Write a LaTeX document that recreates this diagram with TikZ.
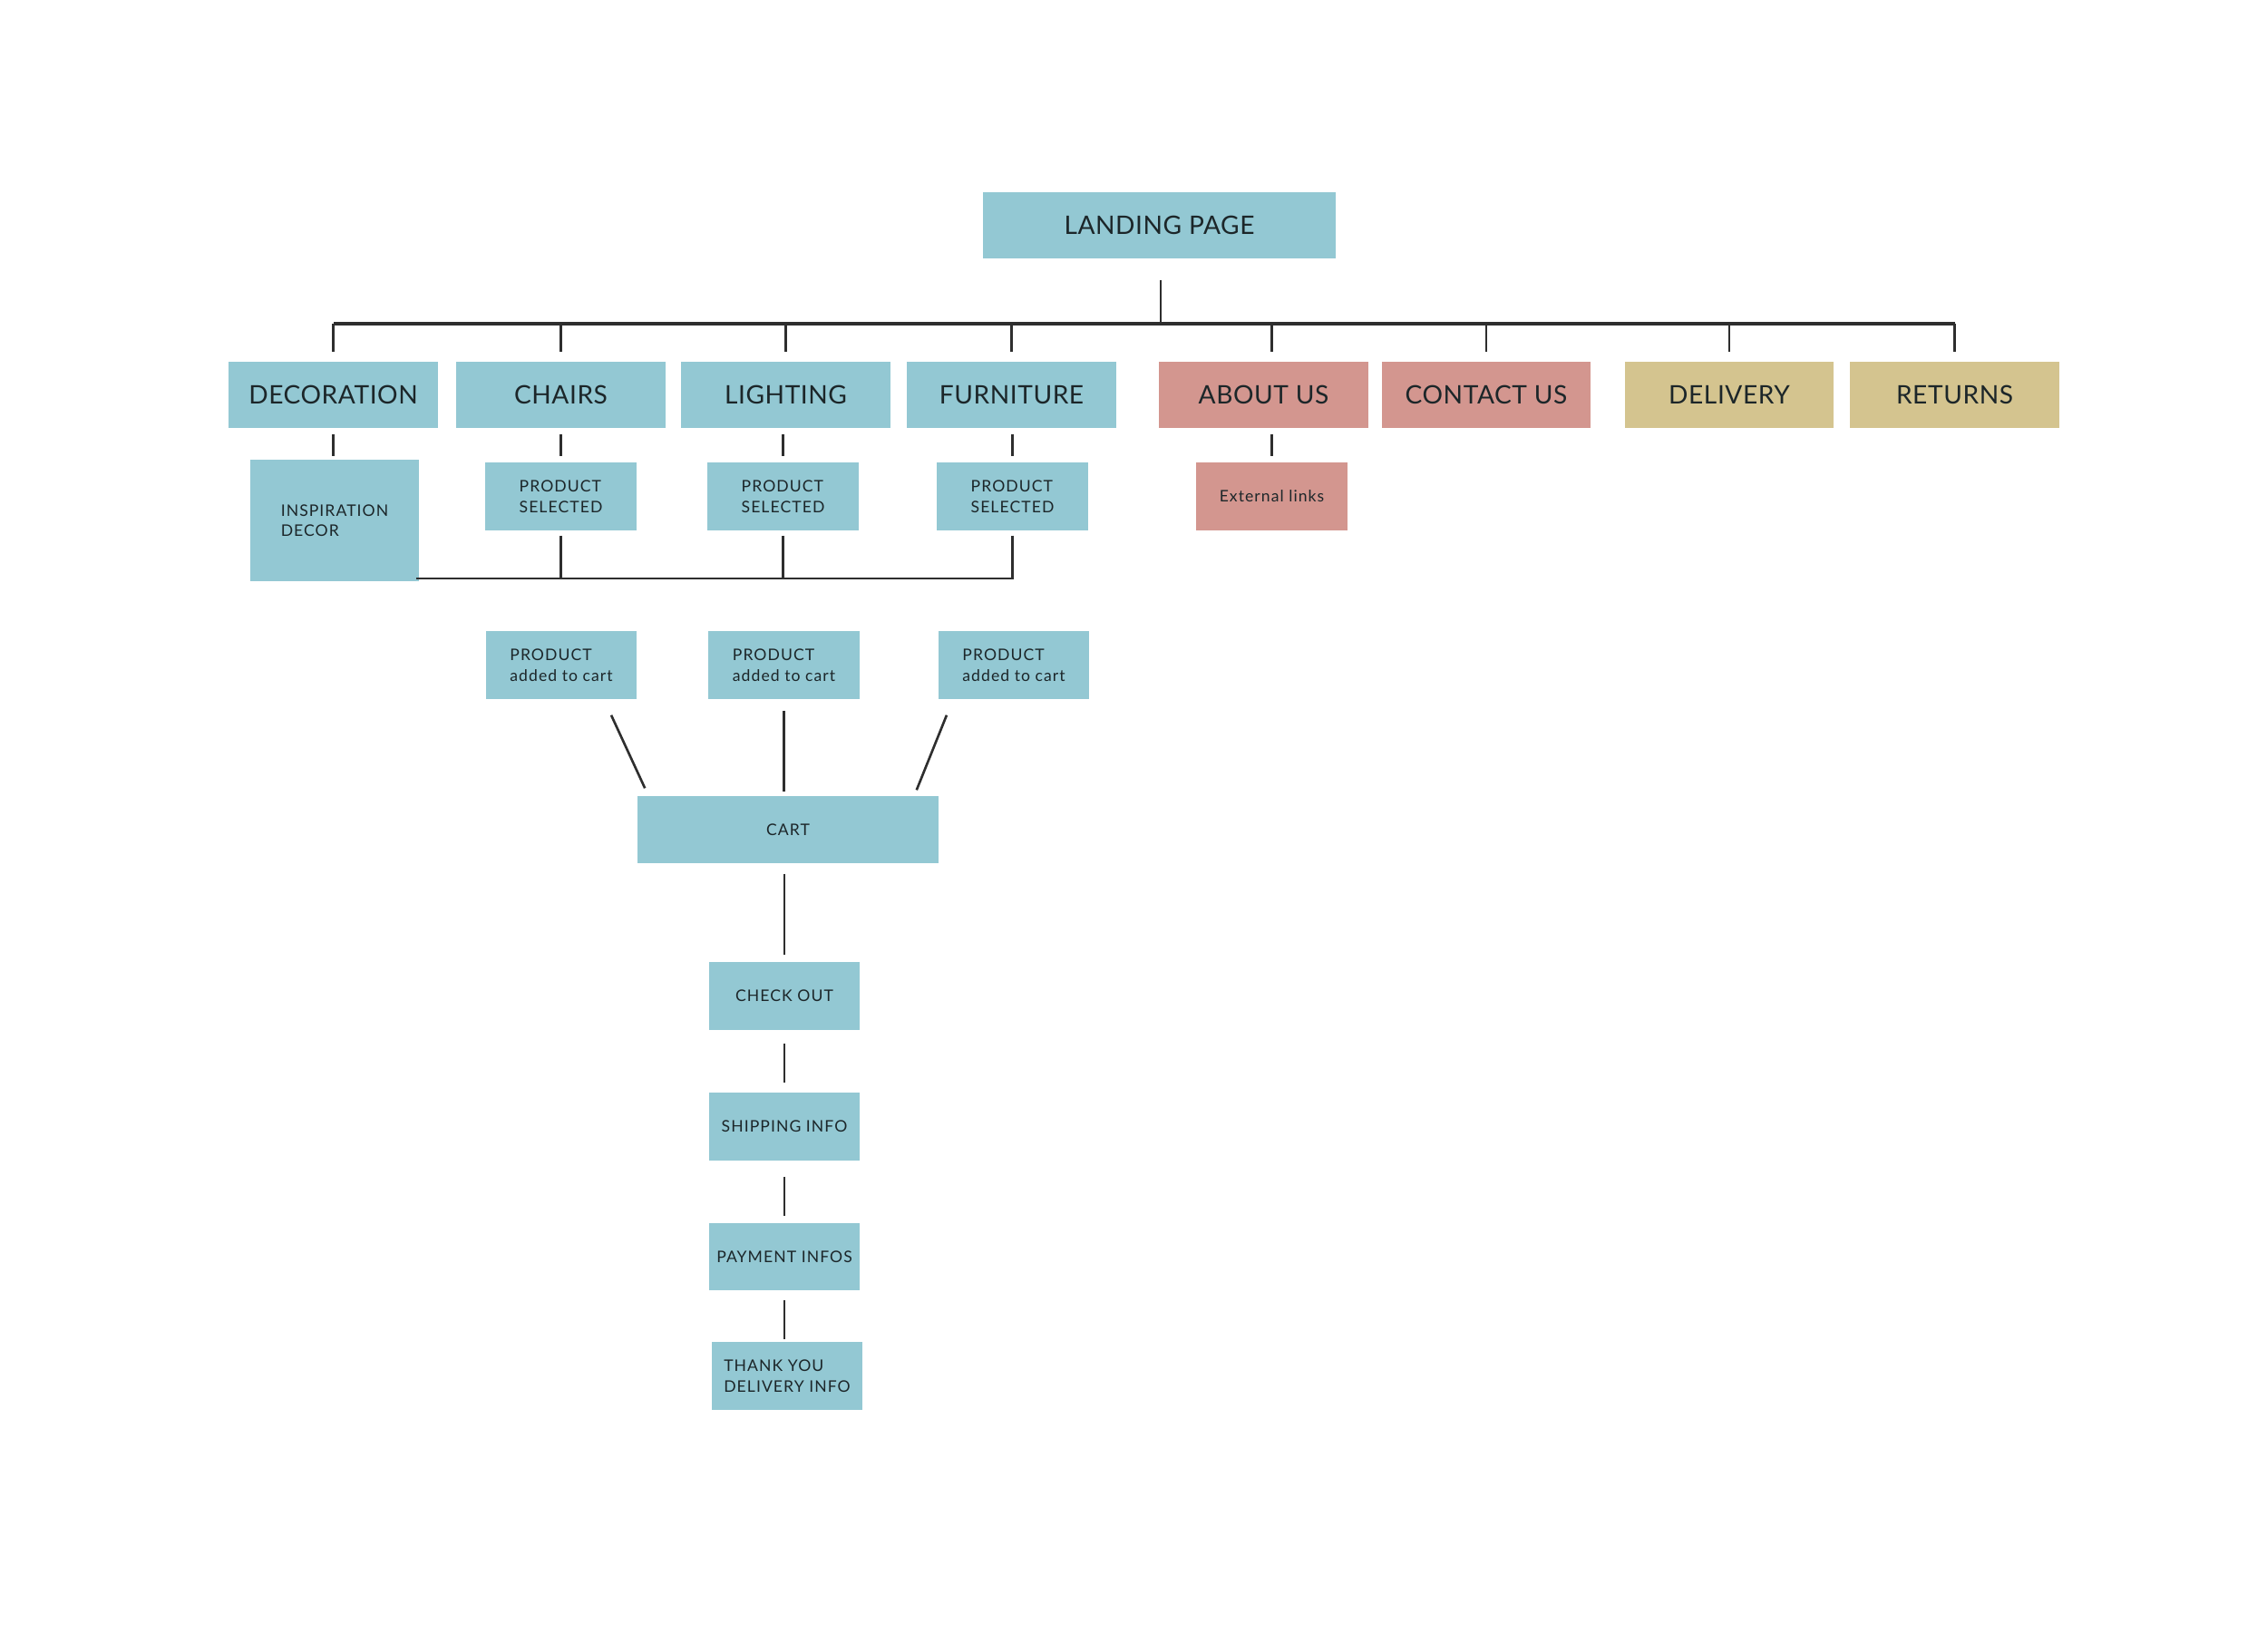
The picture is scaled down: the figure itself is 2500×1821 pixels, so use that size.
\documentclass[tikz,border=0pt]{standalone}
\usepackage{fontspec}
\setmainfont{Lato}
\newfontfamily\bigf[LetterSpace=2]{Lato}
\newfontfamily\smf[LetterSpace=6]{Lato}
\definecolor{bl}{HTML}{93C8D3}
\definecolor{pk}{HTML}{D3968F}
\definecolor{tn}{HTML}{D4C48F}
\definecolor{txt}{HTML}{1C2629}
\definecolor{lc}{HTML}{2E2E2E}
\tikzset{
  box/.style={rectangle, inner sep=0pt, text=txt, align=center},
  bigbox/.style={box, minimum width=2.3cm, minimum height=0.73cm, font={\bigf\fontsize{8}{9.6}\selectfont}},
  smbox/.style={box, minimum width=1.66cm, minimum height=0.75cm, font={\smf\fontsize{5}{6.4}\selectfont}, align=left},
  conn/.style={draw=lc, line width=0.75pt},
}
\begin{document}
\begin{tikzpicture}[x=0.01cm,y=-0.01cm]
\useasboundingbox (0,0) rectangle (2500,1821);
% top
\node[bigbox, fill=bl, minimum width=3.89cm] (landing) at (1278.5,248.5) {LANDING PAGE};
\node[bigbox, fill=bl] (deco) at (367.5,435.5) {DECORATION};
\node[bigbox, fill=bl] (chairs) at (618.5,435.5) {CHAIRS};
\node[bigbox, fill=bl] (lighting) at (866.5,435.5) {LIGHTING};
\node[bigbox, fill=bl] (furniture) at (1115.5,435.5) {FURNITURE};
\node[bigbox, fill=pk] (about) at (1393.5,435.5) {ABOUT US};
\node[bigbox, fill=pk] (contact) at (1639,435.5) {CONTACT US};
\node[bigbox, fill=tn] (delivery) at (1907,435.5) {DELIVERY};
\node[bigbox, fill=tn] (returns) at (2155.5,435.5) {RETURNS};
% second level
\node[smbox, fill=bl, minimum width=1.86cm, minimum height=1.34cm] (insp) at (369,574) {INSPIRATION\\DECOR};
\node[smbox, fill=bl] (ps1) at (618.5,547.5) {PRODUCT\\SELECTED};
\node[smbox, fill=bl] (ps2) at (863.5,547.5) {PRODUCT\\SELECTED};
\node[smbox, fill=bl] (ps3) at (1116.5,547.5) {PRODUCT\\SELECTED};
\node[smbox, fill=pk] (ext) at (1402.5,547.5) {External links};
% added to cart
\node[smbox, fill=bl] (pa1) at (619,733.5) {PRODUCT\\added to cart};
\node[smbox, fill=bl] (pa2) at (864.5,733.5) {PRODUCT\\added to cart};
\node[smbox, fill=bl] (pa3) at (1118,733.5) {PRODUCT\\added to cart};
\node[smbox, fill=bl, minimum width=3.32cm, minimum height=0.74cm] (cart) at (869,915) {CART};
\node[smbox, fill=bl] (check) at (865,1098.5) {CHECK OUT};
\node[smbox, fill=bl] (ship) at (865,1242.5) {SHIPPING INFO};
\node[smbox, fill=bl, minimum height=0.74cm] (pay) at (865,1386) {PAYMENT INFOS};
\node[smbox, fill=bl] (thank) at (868,1517.5) {THANK YOU\\DELIVERY INFO};
% top bus
\coordinate (busC) at (1280,357);
\draw[conn, shorten <=0.23cm] (landing.south -| busC) -- (busC);
\draw[conn, line width=0.9pt] (deco.north |- busC) -- (returns.north |- busC);
\foreach \n in {deco,chairs,lighting,furniture,contact,delivery,returns}
  \draw[conn, shorten >=0.1cm] (\n.north |- busC) -- (\n.north);
\draw[conn, shorten >=0.1cm] (ext.north |- busC) -- (ext.north |- about.north);
% second-level drops
\draw[conn, shorten <=0.06cm, shorten >=0.03cm] (deco.south) -- (deco.south |- insp.north);
\draw[conn, shorten <=0.06cm, shorten >=0.06cm] (ps1.north |- chairs.south) -- (ps1.north);
\draw[conn, shorten <=0.06cm, shorten >=0.06cm] (ps2.north |- lighting.south) -- (ps2.north);
\draw[conn, shorten <=0.06cm, shorten >=0.06cm] (ps3.north |- furniture.south) -- (ps3.north);
\draw[conn, shorten <=0.06cm, shorten >=0.06cm] (ext.north |- about.south) -- (ext.north);
% bottom bus
\coordinate (bb) at (0,638);
\draw[conn, shorten <=0.05cm, shorten >=-0.04cm] (ps3.south) |- (insp.east |- bb);
\draw[conn, shorten <=0.05cm] (ps1.south) -- (ps1.south |- bb);
\draw[conn, shorten <=0.05cm] (ps2.south) -- (ps2.south |- bb);
% to cart
\draw[conn] ([xshift=0.55cm,yshift=-0.17cm]pa1.south) -- ([xshift=0.09cm,yshift=0.08cm]cart.north west);
\draw[conn, shorten <=0.12cm, shorten >=0.04cm] (pa2.south) -- (pa2.south |- cart.north);
\draw[conn] ([xshift=-0.74cm,yshift=-0.17cm]pa3.south) -- ([xshift=-0.25cm,yshift=0.06cm]cart.north east);
% checkout chain
\draw[conn, shorten <=0.11cm, shorten >=0.07cm] (check.north |- cart.south) -- (check.north);
\draw[conn, shorten <=0.14cm, shorten >=0.10cm] (check.south) -- (ship.north);
\draw[conn, shorten <=0.17cm, shorten >=0.07cm] (ship.south) -- (pay.north);
\draw[conn, shorten <=0.10cm, shorten >=0.02cm] (pay.south) -- (pay.south |- thank.north);
\end{tikzpicture}
\end{document}
